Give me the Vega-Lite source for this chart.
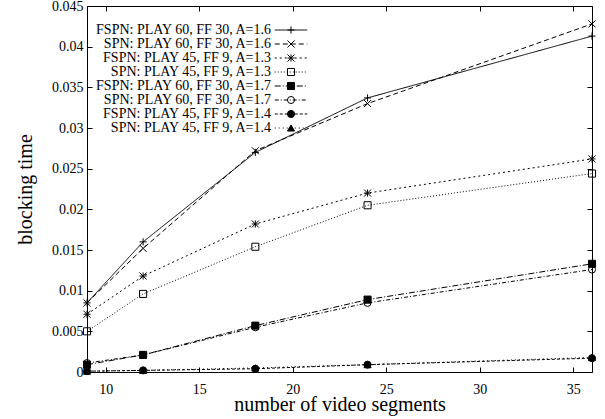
{
  "$schema": "https://vega.github.io/schema/vega-lite/v6.json",
  "autosize": "none",
  "width": 505,
  "height": 366,
  "padding": {"left": 87, "top": 6, "right": 13, "bottom": 47},
  "config": {
    "font": "Liberation Serif",
    "view": {"stroke": "black", "strokeWidth": 1},
    "axis": {"grid": false, "domain": false, "tickColor": "black", "tickSize": -5, "labelColor": "black", "labelFontSize": 14, "labelFont": "Liberation Serif", "titleFont": "Liberation Serif", "titleFontSize": 20, "titleFontWeight": "normal", "titleColor": "black"},
    "legend": {"labelFont": "Liberation Serif", "labelFontSize": 14, "labelColor": "black", "padding": 0, "labelLimit": 400}
  },
  "data": {"values": [
    {"s": "FSPN: PLAY 60, FF 30, A=1.6", "l": "FSPN: PLAY 60, FF 30, A=1.6", "x": 9, "y": 0.0085},
    {"s": "FSPN: PLAY 60, FF 30, A=1.6", "l": "FSPN: PLAY 60, FF 30, A=1.6", "x": 12, "y": 0.016},
    {"s": "FSPN: PLAY 60, FF 30, A=1.6", "l": "FSPN: PLAY 60, FF 30, A=1.6", "x": 18, "y": 0.027},
    {"s": "FSPN: PLAY 60, FF 30, A=1.6", "l": "FSPN: PLAY 60, FF 30, A=1.6", "x": 24, "y": 0.0337},
    {"s": "FSPN: PLAY 60, FF 30, A=1.6", "l": "FSPN: PLAY 60, FF 30, A=1.6", "x": 36, "y": 0.0413},
    {"s": "SPN: PLAY 60, FF 30, A=1.6", "l": "SPN: PLAY 60, FF 30, A=1.6", "x": 9, "y": 0.0085},
    {"s": "SPN: PLAY 60, FF 30, A=1.6", "l": "SPN: PLAY 60, FF 30, A=1.6", "x": 12, "y": 0.0152},
    {"s": "SPN: PLAY 60, FF 30, A=1.6", "l": "SPN: PLAY 60, FF 30, A=1.6", "x": 18, "y": 0.0272},
    {"s": "SPN: PLAY 60, FF 30, A=1.6", "l": "SPN: PLAY 60, FF 30, A=1.6", "x": 24, "y": 0.033},
    {"s": "SPN: PLAY 60, FF 30, A=1.6", "l": "SPN: PLAY 60, FF 30, A=1.6", "x": 36, "y": 0.0428},
    {"s": "FSPN: PLAY 45, FF 9, A=1.3", "l": "FSPN: PLAY 45, FF 9, A=1.3", "x": 9, "y": 0.0071},
    {"s": "FSPN: PLAY 45, FF 9, A=1.3", "l": "FSPN: PLAY 45, FF 9, A=1.3", "x": 12, "y": 0.0118},
    {"s": "FSPN: PLAY 45, FF 9, A=1.3", "l": "FSPN: PLAY 45, FF 9, A=1.3", "x": 18, "y": 0.0182},
    {"s": "FSPN: PLAY 45, FF 9, A=1.3", "l": "FSPN: PLAY 45, FF 9, A=1.3", "x": 24, "y": 0.022},
    {"s": "FSPN: PLAY 45, FF 9, A=1.3", "l": "FSPN: PLAY 45, FF 9, A=1.3", "x": 36, "y": 0.0262},
    {"s": "SPN: PLAY 45, FF 9, A=1.3", "l": "SPN: PLAY 45, FF 9, A=1.3", "x": 9, "y": 0.005},
    {"s": "SPN: PLAY 45, FF 9, A=1.3", "l": "SPN: PLAY 45, FF 9, A=1.3", "x": 12, "y": 0.0096},
    {"s": "SPN: PLAY 45, FF 9, A=1.3", "l": "SPN: PLAY 45, FF 9, A=1.3", "x": 18, "y": 0.0154},
    {"s": "SPN: PLAY 45, FF 9, A=1.3", "l": "SPN: PLAY 45, FF 9, A=1.3", "x": 24, "y": 0.0205},
    {"s": "SPN: PLAY 45, FF 9, A=1.3", "l": "SPN: PLAY 45, FF 9, A=1.3", "x": 36, "y": 0.0244},
    {"s": "FSPN: PLAY 60, FF 30, A=1.7", "l": "FSPN: PLAY 60, FF 30, A=1.7", "x": 9, "y": 0.0009},
    {"s": "FSPN: PLAY 60, FF 30, A=1.7", "l": "FSPN: PLAY 60, FF 30, A=1.7", "x": 12, "y": 0.0021},
    {"s": "FSPN: PLAY 60, FF 30, A=1.7", "l": "FSPN: PLAY 60, FF 30, A=1.7", "x": 18, "y": 0.0057},
    {"s": "FSPN: PLAY 60, FF 30, A=1.7", "l": "FSPN: PLAY 60, FF 30, A=1.7", "x": 24, "y": 0.0089},
    {"s": "FSPN: PLAY 60, FF 30, A=1.7", "l": "FSPN: PLAY 60, FF 30, A=1.7", "x": 36, "y": 0.0133},
    {"s": "SPN: PLAY 60, FF 30, A=1.7", "l": "SPN: PLAY 60, FF 30, A=1.7", "x": 9, "y": 0.0011},
    {"s": "SPN: PLAY 60, FF 30, A=1.7", "l": "SPN: PLAY 60, FF 30, A=1.7", "x": 12, "y": 0.0021},
    {"s": "SPN: PLAY 60, FF 30, A=1.7", "l": "SPN: PLAY 60, FF 30, A=1.7", "x": 18, "y": 0.0055},
    {"s": "SPN: PLAY 60, FF 30, A=1.7", "l": "SPN: PLAY 60, FF 30, A=1.7", "x": 24, "y": 0.0085},
    {"s": "SPN: PLAY 60, FF 30, A=1.7", "l": "SPN: PLAY 60, FF 30, A=1.7", "x": 36, "y": 0.0126},
    {"s": "FSPN: PLAY 45, FF 9, A=1.4", "l": "FSPN: PLAY 45, FF 9, A=1.4", "x": 9, "y": 0.0001},
    {"s": "FSPN: PLAY 45, FF 9, A=1.4", "l": "FSPN: PLAY 45, FF 9, A=1.4", "x": 12, "y": 0.0002},
    {"s": "FSPN: PLAY 45, FF 9, A=1.4", "l": "FSPN: PLAY 45, FF 9, A=1.4", "x": 18, "y": 0.0004},
    {"s": "FSPN: PLAY 45, FF 9, A=1.4", "l": "FSPN: PLAY 45, FF 9, A=1.4", "x": 24, "y": 0.0009},
    {"s": "FSPN: PLAY 45, FF 9, A=1.4", "l": "FSPN: PLAY 45, FF 9, A=1.4", "x": 36, "y": 0.0017},
    {"s": "SPN: PLAY 45, FF 9, A=1.4", "l": "SPN: PLAY 45, FF 9, A=1.4", "x": 9, "y": 0.0001},
    {"s": "SPN: PLAY 45, FF 9, A=1.4", "l": "SPN: PLAY 45, FF 9, A=1.4", "x": 12, "y": 0.0002},
    {"s": "SPN: PLAY 45, FF 9, A=1.4", "l": "SPN: PLAY 45, FF 9, A=1.4", "x": 18, "y": 0.0005},
    {"s": "SPN: PLAY 45, FF 9, A=1.4", "l": "SPN: PLAY 45, FF 9, A=1.4", "x": 24, "y": 0.0009},
    {"s": "SPN: PLAY 45, FF 9, A=1.4", "l": "SPN: PLAY 45, FF 9, A=1.4", "x": 36, "y": 0.0018}
  ]},
  "resolve": {"axis": {"x": "independent", "y": "independent"}},
  "layer": [
    {
      "mark": {"type": "line", "stroke": "black", "strokeWidth": 1},
      "encoding": {
        "x": {"field": "x", "type": "quantitative", "scale": {"domain": [9, 36], "nice": false, "zero": false},
              "axis": {"orient": "bottom", "values": [10, 15, 20, 25, 30, 35], "labelPadding": 15, "title": "number of video segments", "titlePadding": -2}},
        "y": {"field": "y", "type": "quantitative", "scale": {"domain": [0, 0.045], "nice": false},
              "axis": {"orient": "left", "values": [0, 0.005, 0.01, 0.015, 0.02, 0.025, 0.03, 0.035, 0.04, 0.045], "format": "~g", "labelPadding": 9, "title": "blocking time", "titlePadding": 16}},
        "strokeDash": {"field": "l", "type": "nominal",
          "sort": ["FSPN: PLAY 60, FF 30, A=1.6", "SPN: PLAY 60, FF 30, A=1.6", "FSPN: PLAY 45, FF 9, A=1.3", "SPN: PLAY 45, FF 9, A=1.3", "FSPN: PLAY 60, FF 30, A=1.7", "SPN: PLAY 60, FF 30, A=1.7", "FSPN: PLAY 45, FF 9, A=1.4", "SPN: PLAY 45, FF 9, A=1.4"],
          "scale": {"range": [[1, 0], [5, 3], [2, 3], [1, 2], [6, 2, 1, 2], [4, 2, 1, 2], [3, 2], [1, 3]]},
          "legend": {"orient": "none", "legendX": 197, "legendY": 17, "title": null, "symbolType": "M-4.6,0H4.6", "symbolSize": 50, "symbolStrokeColor": "black", "symbolStrokeWidth": 1, "labelAlign": "right", "labelOffset": -27, "rowPadding": -2}}
      }
    },
    {
      "mark": {"type": "point", "filled": true, "stroke": "black", "strokeWidth": 1, "size": 50, "opacity": 1},
      "encoding": {
        "x": {"field": "x", "type": "quantitative", "axis": {"orient": "top", "values": [10, 15, 20, 25, 30, 35], "labels": false, "title": null}},
        "y": {"field": "y", "type": "quantitative", "axis": {"orient": "right", "values": [0, 0.005, 0.01, 0.015, 0.02, 0.025, 0.03, 0.035, 0.04, 0.045], "labels": false, "title": null}},
        "shape": {"field": "s", "type": "nominal",
          "scale": {"domain": ["FSPN: PLAY 60, FF 30, A=1.6", "SPN: PLAY 60, FF 30, A=1.6", "FSPN: PLAY 45, FF 9, A=1.3", "SPN: PLAY 45, FF 9, A=1.3", "FSPN: PLAY 60, FF 30, A=1.7", "SPN: PLAY 60, FF 30, A=1.7", "FSPN: PLAY 45, FF 9, A=1.4", "SPN: PLAY 45, FF 9, A=1.4"],
                    "range": ["M-1,0H1M0,-1V1", "M-1,-1L1,1M-1,1L1,-1", "M-1,0H1M0,-1V1M-1,-1L1,1M-1,1L1,-1", "square", "square", "circle", "circle", "triangle-up"]},
          "legend": {"orient": "none", "legendX": 197, "legendY": 17, "title": null, "labelOpacity": 0, "symbolStrokeColor": "black", "symbolFillColor": "transparent", "symbolStrokeWidth": 1, "symbolSize": 50, "labelAlign": "right", "labelOffset": -27, "rowPadding": -2,
                     "encode": {"symbols": {"stroke": {"value": "black"}, "strokeWidth": {"value": 1}, "fill": {"signal": "indexof(['FSPN: PLAY 60, FF 30, A=1.7', 'FSPN: PLAY 45, FF 9, A=1.4', 'SPN: PLAY 45, FF 9, A=1.4'], datum.value) >= 0 ? 'black' : 'transparent'"}}}}},
        "fill": {"field": "s", "type": "nominal", "legend": null,
          "scale": {"domain": ["FSPN: PLAY 60, FF 30, A=1.6", "SPN: PLAY 60, FF 30, A=1.6", "FSPN: PLAY 45, FF 9, A=1.3", "SPN: PLAY 45, FF 9, A=1.3", "FSPN: PLAY 60, FF 30, A=1.7", "SPN: PLAY 60, FF 30, A=1.7", "FSPN: PLAY 45, FF 9, A=1.4", "SPN: PLAY 45, FF 9, A=1.4"],
                    "range": ["transparent", "transparent", "transparent", "transparent", "black", "transparent", "black", "black"]}}
      }
    }
  ]
}
